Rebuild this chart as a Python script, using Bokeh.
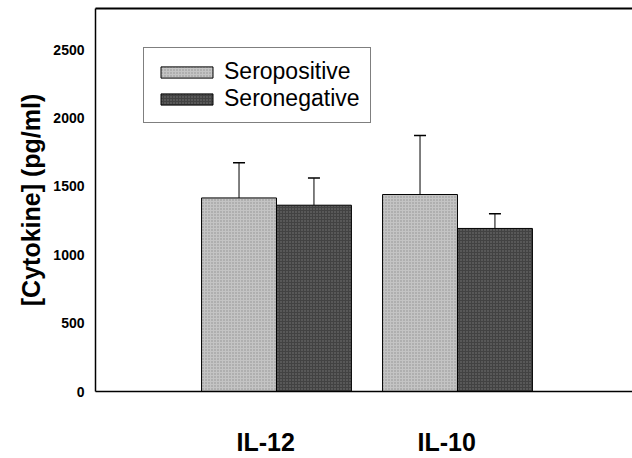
from bokeh.plotting import figure
from bokeh.models import (ColumnDataSource, LinearAxis, FixedTicker, Range1d,
                          Whisker, TeeHead, Legend, LegendItem)
from bokeh.embed import file_html
from bokeh.resources import INLINE

# ---- data ----
categories = ["IL-12", "IL-10"]
seropositive = [1415, 1440]
seropositive_err = [258, 432]
seronegative = [1362, 1192]
seronegative_err = [198, 108]
y_ticks = [0, 500, 1000, 1500, 2000, 2500]

FONT = "Liberation Sans"
BAR_W = 0.414
LIGHT = "#c4c4c4"
DARK = "#424242"

centers = [i + 1 for i in range(len(categories))]
pos_x = [c - BAR_W / 2 for c in centers]
neg_x = [c + BAR_W / 2 for c in centers]

src_pos = ColumnDataSource(dict(x=pos_x, top=seropositive,
                                up=[v + e for v, e in zip(seropositive, seropositive_err)]))
src_neg = ColumnDataSource(dict(x=neg_x, top=seronegative,
                                up=[v + e for v, e in zip(seronegative, seronegative_err)]))

p = figure(width=632, height=458, output_backend="svg", toolbar_location=None,
           x_range=Range1d(0, 2.967), y_range=Range1d(0, 2800),
           min_border_left=95, min_border_right=0, min_border_top=8, min_border_bottom=67,
           x_axis_location=None, y_axis_location=None)
p.outline_line_color = None
p.xgrid.visible = False
p.ygrid.visible = False
p.background_fill_color = "white"
p.border_fill_color = "white"

r_pos = p.vbar(x="x", top="top", width=BAR_W, bottom=0, source=src_pos,
               fill_color=LIGHT, line_color="black", line_width=1,
               hatch_pattern="dot", hatch_color="#8f8f8f", hatch_scale=3, hatch_weight=0.6)
r_neg = p.vbar(x="x", top="top", width=BAR_W, bottom=0, source=src_neg,
               fill_color=DARK, line_color="black", line_width=1,
               hatch_pattern="dot", hatch_color="#777777", hatch_scale=3, hatch_weight=0.6)

for src in (src_pos, src_neg):
    w = Whisker(base="x", lower="top", upper="up", source=src,
                line_color="black", line_width=1,
                upper_head=TeeHead(size=12, line_color="black", line_width=1.5),
                lower_head=None)
    p.add_layout(w)

# left axis
yax = LinearAxis(ticker=FixedTicker(ticks=y_ticks))
yax.axis_label = "[Cytokine] (pg/ml)"
yax.axis_label_text_font = FONT
yax.axis_label_text_font_style = "bold"
yax.axis_label_text_font_size = "25px"
yax.axis_label_text_color = "black"
yax.axis_label_standoff = 5
yax.major_label_text_font = FONT
yax.major_label_text_font_style = "bold"
yax.major_label_text_font_size = "14px"
yax.major_label_text_color = "black"
yax.major_label_standoff = 5
yax.major_tick_line_color = None
yax.minor_tick_line_color = None
yax.axis_line_color = "black"
yax.axis_line_width = 1.5
p.add_layout(yax, "left")

# bottom axis with category labels
tick_pos = [c - 0.06 for c in centers]
xax = LinearAxis(ticker=FixedTicker(ticks=tick_pos),
                 major_label_overrides={t: lab for t, lab in zip(tick_pos, categories)})
xax.major_label_text_font = FONT
xax.major_label_text_font_style = "bold"
xax.major_label_text_font_size = "25px"
xax.major_label_text_color = "black"
xax.major_label_standoff = 36
xax.major_tick_out = 0
xax.major_tick_in = 0
xax.minor_tick_out = 0
xax.minor_tick_in = 0
xax.major_tick_line_color = None
xax.minor_tick_line_color = None
xax.axis_line_color = "black"
xax.axis_line_width = 1.5
p.add_layout(xax, "below")

# top border line
tax = LinearAxis(ticker=FixedTicker(ticks=[]))
tax.major_label_text_font_size = "0px"
tax.major_tick_out = 0
tax.minor_tick_out = 0
tax.major_tick_line_color = None
tax.minor_tick_line_color = None
tax.major_label_standoff = 0
tax.axis_line_color = "black"
tax.axis_line_width = 2
p.add_layout(tax, "above")

legend = Legend(items=[LegendItem(label="Seropositive", renderers=[r_pos]),
                       LegendItem(label="Seronegative", renderers=[r_neg])],
                location=(48, 268))
legend.label_text_font = FONT
legend.label_text_font_size = "23px"
legend.label_text_color = "black"
legend.glyph_width = 65
legend.glyph_height = 14
legend.label_standoff = 5
legend.padding = 10
legend.spacing = 0
legend.margin = 0
legend.border_line_color = "black"
legend.border_line_width = 1.5
legend.background_fill_alpha = 1
p.add_layout(legend, "center")

open("out.html", "w").write(file_html(p, INLINE))
